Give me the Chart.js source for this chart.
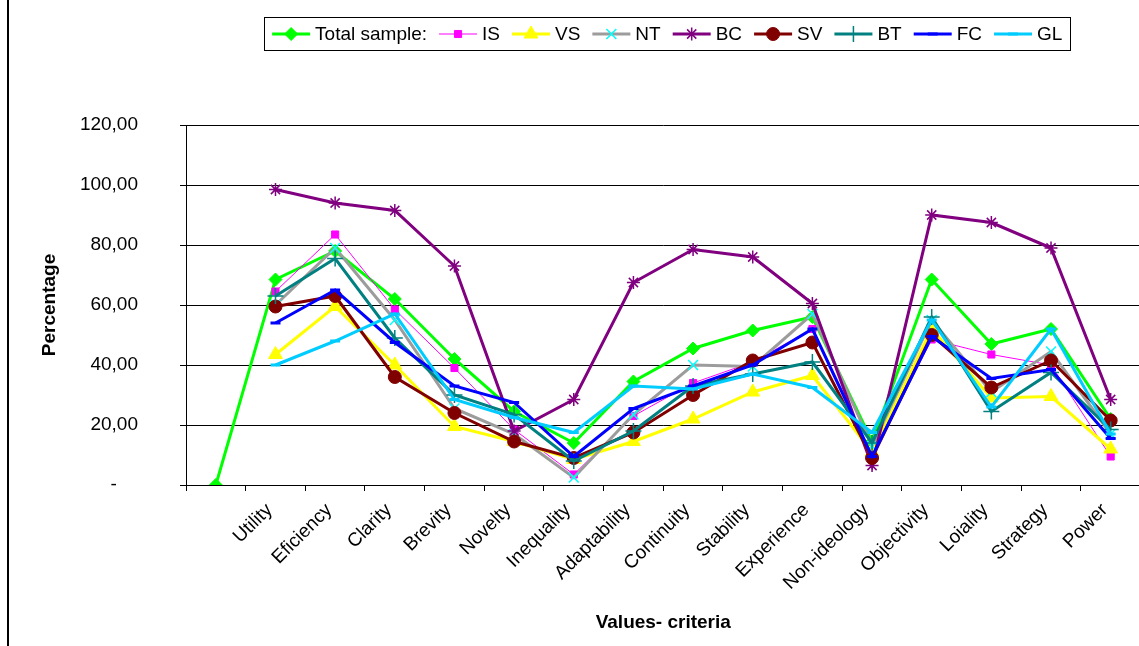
<!DOCTYPE html>
<html>
<head>
<meta charset="utf-8">
<script src="https://cdn.jsdelivr.net/npm/chart.js@4/dist/chart.umd.min.js"></script>
<style>
  html, body { margin: 0; padding: 0; background: #fff; overflow: hidden; width: 1139px; height: 646px; }
  #wrap { position: absolute; left: 0; top: 0; width: 1150px; height: 646px; }
  #frame { position: absolute; left: 7px; top: 0; width: 2px; height: 646px; background: #000; }
</style>
</head>
<body>
<div id="wrap"><canvas id="c"></canvas></div>
<div id="frame"></div>
<script>
// Value criteria (first slot is an unlabeled origin point)
const categories = ['', 'Utility', 'Eficiency', 'Clarity', 'Brevity', 'Novelty', 'Inequality',
  'Adaptability', 'Continuity', 'Stability', 'Experience', 'Non-ideology', 'Objectivity',
  'Loiality', 'Strategy', 'Power'];

// Percentages per group
const totalSample = [0, 68.5, 78, 62, 42, 24.5, 14, 34.5, 45.5, 51.5, 56, 14.5, 68.5, 47, 52, 22];
const seriesIS = [null, 64.5, 83.5, 58.5, 39, 18.5, 3.5, 23, 34, 41, 52, 10, 48.5, 43.5, 40, 9.5];
const seriesVS = [null, 43.5, 59.5, 40, 19.5, 14.5, 8.5, 14.5, 22, 31, 36.5, 11, 52, 29, 29.5, 12];
const seriesNT = [null, 60, 79, 55, 25.5, 17, 2.5, 23.5, 40, 39.5, 57, 13, 55, 31, 44.5, 17];
const seriesBC = [null, 98.5, 94, 91.5, 73, 18, 28.5, 67.5, 78.5, 76, 60.5, 6.5, 90, 87.5, 79, 28.5];
const seriesSV = [null, 59.5, 63, 36, 24, 14.5, 9, 17.5, 30, 41.5, 47.5, 9, 50, 32.5, 41.5, 21.5];
const seriesBT = [null, 63, 75.5, 49, 30, 23.5, 8, 18, 33, 37, 41, 14, 56, 24.5, 37.5, 18.5];
const seriesFC = [null, 54, 65, 47.5, 33, 27.5, 9.5, 25.5, 33, 40, 52, 9.5, 49.5, 35.5, 38.5, 15.5];
const seriesGL = [null, 40, 48, 57, 28.5, 22.5, 17.5, 33, 32, 37, 32.5, 17.5, 55, 26, 52, 17];

// Y axis ticks
const yTicks = [0, 20, 40, 60, 80, 100, 120];

const FONT = '"Liberation Sans", Arial, sans-serif';

function series(label, data, line, lineWidth, style, radius, fill, stroke, markerWidth) {
  return {
    label, data,
    borderColor: line, borderWidth: lineWidth, backgroundColor: fill,
    pointStyle: style, pointRadius: radius, pointHoverRadius: radius,
    pointBackgroundColor: fill, pointBorderColor: stroke, pointBorderWidth: markerWidth,
    tension: 0, fill: false
  };
}

const datasets = [
  series('Total sample:', totalSample, '#00FF00', 3, 'rectRot', 6.5, '#00FF00', '#00FF00', 1),
  series('IS', seriesIS, '#FF00FF', 1, 'rect', 5, '#FF00FF', '#FF00FF', 1),
  series('VS', seriesVS, '#FFFF00', 3, 'triangle', 8, '#FFFF00', '#FFFF00', 1),
  series('NT', seriesNT, '#9C9C9C', 3, 'crossRot', 7, '#00FFFF', '#00FFFF', 1.5),
  series('BC', seriesBC, '#800080', 3, 'star', 6.5, '#800080', '#800080', 1.5),
  series('SV', seriesSV, '#800000', 3, 'circle', 6.5, '#800000', '#800000', 1),
  series('BT', seriesBT, '#008080', 3, 'cross', 8, '#008080', '#008080', 1.5),
  series('FC', seriesFC, '#0000FF', 3, 'line', 5, '#0000FF', '#0000FF', 3),
  series('GL', seriesGL, '#00CCFF', 3, 'line', 5, '#00CCFF', '#00CCFF', 3)
];
// later series are painted over earlier ones
datasets.forEach((d, i) => { d.order = datasets.length - i; });

// Boxed legend drawn across the top, each entry showing line and marker
const boxedLegend = {
  id: 'boxedLegend',
  afterDraw(chart) {
    const ctx = chart.ctx;
    const sets = chart.data.datasets;
    const sampleLen = 38, gap = 5, spacing = 12, pad = 8;
    ctx.save();
    ctx.font = '19px ' + FONT;
    ctx.textBaseline = 'middle';
    ctx.textAlign = 'left';
    let total = 0;
    sets.forEach((ds, i) => {
      total += sampleLen + gap + ctx.measureText(ds.label).width + (i < sets.length - 1 ? spacing : 0);
    });
    const cx = (chart.chartArea.left + chart.chartArea.right) / 2 + 4;
    let x = cx - total / 2;
    const y = 34;
    ctx.strokeStyle = '#000';
    ctx.lineWidth = 1;
    ctx.strokeRect(Math.round(x - pad) + 0.5, 17.5, Math.round(total + 2 * pad), 33);
    sets.forEach((ds) => {
      ctx.strokeStyle = ds.borderColor;
      ctx.lineWidth = ds.borderWidth;
      ctx.beginPath();
      ctx.moveTo(x, y);
      ctx.lineTo(x + sampleLen, y);
      ctx.stroke();
      ctx.fillStyle = ds.pointBackgroundColor;
      ctx.strokeStyle = ds.pointBorderColor;
      ctx.lineWidth = ds.pointBorderWidth;
      Chart.helpers.drawPoint(ctx, {
        pointStyle: ds.pointStyle, radius: ds.pointRadius,
        borderWidth: ds.pointBorderWidth, rotation: 0
      }, x + sampleLen / 2, y);
      x += sampleLen + gap;
      ctx.fillStyle = '#000';
      ctx.fillText(ds.label, x, y + 1);
      x += ctx.measureText(ds.label).width + spacing;
    });
    ctx.restore();
  }
};

new Chart(document.getElementById('c'), {
  type: 'line',
  data: { labels: categories, datasets },
  options: {
    responsive: true,
    maintainAspectRatio: false,
    animation: false,
    devicePixelRatio: 1,
    layout: { padding: { top: 125, left: 0, right: 4, bottom: 0 } },
    plugins: { legend: { display: false }, tooltip: { enabled: false } },
    scales: {
      x: {
        type: 'category',
        offset: true,
        afterFit(scale) { scale.height = 161; },
        grid: { display: true, drawOnChartArea: false, drawTicks: true, tickLength: 6, offset: true, color: '#000', lineWidth: 1 },
        border: { display: true, color: '#000', width: 1 },
        ticks: {
          autoSkip: false, minRotation: 45, maxRotation: 45, padding: 8, labelOffset: -6,
          color: '#000', font: { family: FONT, size: 19 }
        },
        title: {
          display: true, text: 'Values- criteria', color: '#000',
          font: { family: FONT, size: 19, weight: 'bold' }, padding: { top: 0, bottom: 12 }
        }
      },
      y: {
        min: 0, max: 120,
        afterFit(scale) { scale.width = 186; },
        afterBuildTicks(scale) { scale.ticks = yTicks.map(v => ({ value: v })); },
        grid: { display: true, drawOnChartArea: true, drawTicks: true, tickLength: 6, color: '#000', lineWidth: 1 },
        border: { display: true, color: '#000', width: 1 },
        ticks: {
          padding: 42, color: '#000', font: { family: FONT, size: 19 },
          callback(v) { return v === 0 ? '-    ' : v.toFixed(2).replace('.', ','); }
        },
        title: {
          display: true, text: 'Percentage', color: '#000',
          font: { family: FONT, size: 19, weight: 'bold' }, padding: { top: 38, bottom: 0 }
        }
      }
    }
  },
  plugins: [boxedLegend]
});
</script>
</body>
</html>
